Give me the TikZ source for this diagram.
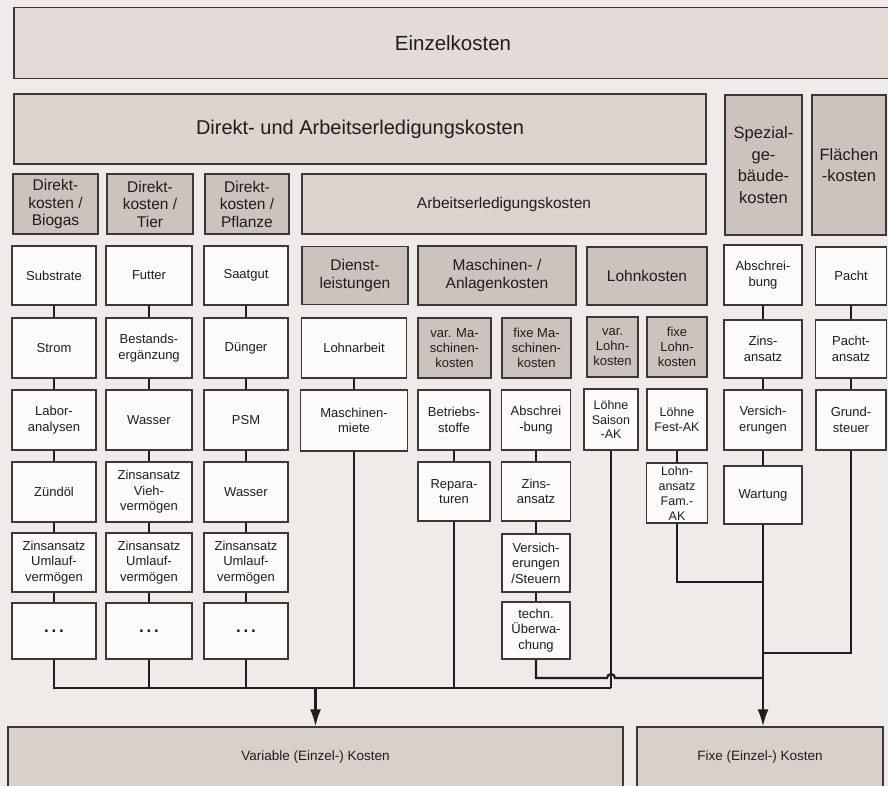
\documentclass[tikz,border=0pt]{standalone}
\usepackage{fontspec}
\setmainfont{Liberation Sans}
\usetikzlibrary{arrows.meta,calc,positioning}
\definecolor{Paper}{HTML}{EEEBE8}
\definecolor{Ink}{HTML}{1E1E1E}
\definecolor{Frame}{HTML}{3A3838}
\definecolor{TopFill}{HTML}{E3DBD7}
\definecolor{MidFill}{HTML}{DDD3CF}
\definecolor{CatFill}{HTML}{CCC2BE}
\definecolor{ItemFill}{HTML}{FCFBF9}
\definecolor{BotFill}{HTML}{D9CFCB}

\begin{document}
\begin{tikzpicture}[x=1pt,y=-1pt,>=Latex,
    every node/.style={text=Ink,align=center,inner sep=1pt},
    wh/.style 2 args={minimum width=#1pt,minimum height=#2pt},
    bigbox/.style={draw=Frame,line width=1.3pt,fill=TopFill,font=\fontsize{20.5}{24}\selectfont},
    catbox/.style={draw=Frame,line width=1.3pt,fill=CatFill,font=\fontsize{15.5}{17.5}\selectfont},
    itembox/.style={draw=Frame,line width=1.3pt,fill=ItemFill,font=\fontsize{13}{15.5}\selectfont},
    botbox/.style={draw=Frame,line width=1.3pt,fill=BotFill,font=\fontsize{13.5}{16}\selectfont},
    linkline/.style={Ink,line width=1.5pt},
    flowline/.style={Ink,line width=2.2pt}]
  \path[use as bounding box,fill=Paper] (0,0) rectangle (888,786);
  \clip (0,0) rectangle (888,786);

  % top level
  \node[bigbox,wh={878}{71}] (einzel) at (453,43) {Einzelkosten};
  \node[bigbox,fill=MidFill,wh={692}{70},font=\fontsize{20}{24}\selectfont] (direktarb) at (360,129)
    {Direkt- und Arbeitserledigungskosten};
  \node[catbox,wh={77}{140},font=\fontsize{16.5}{21.5}\selectfont] (spezial) at (763.5,165)
    {Spezial-\\ge-\\bäude-\\kosten};
  \node[catbox,wh={74}{140},font=\fontsize{16.5}{21.5}\selectfont] (flaechen) at (849,165)
    {Flächen\\-kosten};

  % cost groups
  \node[catbox,wh={85}{60}] (dkbio) at (55.5,204) {Direkt-\\kosten /\\Biogas};
  \node[catbox,wh={86}{60}] (dktier) at (150,204) {Direkt-\\kosten /\\Tier};
  \node[catbox,wh={84}{60}] (dkpfl) at (247,204) {Direkt-\\kosten /\\Pflanze};
  \node[catbox,fill=MidFill,wh={404}{60}] (arbeit) at (504,204) {Arbeitserledigungskosten};

  \node[catbox,wh={106}{58}] (dienst) at (355,275.5) {Dienst-\\leistungen};
  \node[catbox,wh={158}{59}] (masch) at (497,275.5) {Maschinen- /\\Anlagenkosten};
  \node[catbox,wh={120}{58}] (lohnk) at (647,276) {Lohnkosten};
  \node[catbox,wh={73}{60},font=\fontsize{13}{15}\selectfont] (varmasch) at (454.5,348) {var. Ma-\\schinen-\\kosten};
  \node[catbox,wh={69}{60},font=\fontsize{13}{15}\selectfont] (fixmasch) at (536.5,348) {fixe Ma-\\schinen-\\kosten};
  \node[catbox,wh={51}{60},font=\fontsize{13}{15}\selectfont] (varlohn) at (612.5,347) {var.\\Lohn-\\kosten};
  \node[catbox,wh={60}{60},font=\fontsize{13}{15}\selectfont] (fixlohn) at (677,347) {fixe\\Lohn-\\kosten};

  % Direktkosten columns
  \node[itembox,wh={84}{59}] (substr) at (54,275.5) {Substrate};
  \node[itembox,wh={84}{60}] (strom) at (54,348) {Strom};
  \node[itembox,wh={84}{60}] (labor) at (54,420) {Labor-\\analysen};
  \node[itembox,wh={84}{60}] (zuend) at (54,492) {Zündöl};
  \node[itembox,wh={84}{59}] (umlB) at (54,562.5) {Zinsansatz\\Umlauf-\\vermögen};
  \node[itembox,wh={84}{56}] (dotsB) at (54,631) {\fontsize{17}{17}\selectfont\bfseries .\,.\,.};

  \node[itembox,wh={86}{59}] (futter) at (149,275.5) {Futter};
  \node[itembox,wh={86}{60}] (bestand) at (149,348) {Bestands-\\ergänzung};
  \node[itembox,wh={86}{60}] (wasserT) at (149,420) {Wasser};
  \node[itembox,wh={86}{60}] (zinsvieh) at (149,492) {Zinsansatz\\Vieh-\\vermögen};
  \node[itembox,wh={86}{59}] (umlT) at (149,562.5) {Zinsansatz\\Umlauf-\\vermögen};
  \node[itembox,wh={86}{56}] (dotsT) at (149,631) {\fontsize{17}{17}\selectfont\bfseries .\,.\,.};

  \node[itembox,wh={84}{59}] (saatgut) at (246,275.5) {Saatgut};
  \node[itembox,wh={84}{60}] (duenger) at (246,348) {Dünger};
  \node[itembox,wh={84}{60}] (psm) at (246,420) {PSM};
  \node[itembox,wh={84}{60}] (wasserP) at (246,492) {Wasser};
  \node[itembox,wh={84}{59}] (umlP) at (246,562.5) {Zinsansatz\\Umlauf-\\vermögen};
  \node[itembox,wh={84}{56}] (dotsP) at (246,631) {\fontsize{17}{17}\selectfont\bfseries .\,.\,.};

  % Arbeitserledigung items
  \node[itembox,wh={105}{60}] (lohnarb) at (354,348) {Lohnarbeit};
  \node[itembox,wh={107}{61}] (maschmiete) at (354,420.5) {Maschinen-\\miete};
  \node[itembox,wh={72}{60}] (betrieb) at (454,420) {Betriebs-\\stoffe};
  \node[itembox,wh={72}{59}] (repar) at (454,491.5) {Repara-\\turen};
  \node[itembox,wh={69}{60}] (abschrM) at (536,420) {Abschrei\\-bung};
  \node[itembox,wh={69}{59}] (zinsM) at (536,491.5) {Zins-\\ansatz};
  \node[itembox,wh={68}{58}] (versM) at (536,563) {Versich-\\erungen\\/Steuern};
  \node[itembox,wh={68}{57}] (techn) at (536,630.5) {techn.\\Überwa-\\chung};
  \node[itembox,wh={54}{61},font=\fontsize{12.5}{14.5}\selectfont] (saison) at (611,419.5) {Löhne\\Saison\\-AK};
  \node[itembox,wh={60}{61},font=\fontsize{12.5}{14.5}\selectfont] (festak) at (677,419.5) {Löhne\\Fest-AK};
  \node[itembox,wh={61}{60},font=\fontsize{12.5}{15}\selectfont] (famak) at (677,493) {Lohn-\\ansatz\\Fam.-\\AK};

  % Gebaeude und Flaechen
  \node[itembox,wh={78}{60}] (abschrS) at (763,275) {Abschrei-\\bung};
  \node[itembox,wh={78}{58}] (zinsS) at (763,349) {Zins-\\ansatz};
  \node[itembox,wh={78}{60}] (versS) at (763,420) {Versich-\\erungen};
  \node[itembox,wh={78}{58}] (wartung) at (763,495) {Wartung};
  \node[itembox,wh={71}{58}] (pacht) at (851,276) {Pacht};
  \node[itembox,wh={71}{58}] (pachtans) at (851,349) {Pacht-\\ansatz};
  \node[itembox,wh={70}{60}] (grund) at (851,420) {Grund-\\steuer};

  % result
  \node[botbox,wh={615}{60}] (var) at (315.5,757) {Variable (Einzel-) Kosten};
  \node[botbox,wh={246}{60}] (fix) at (760,757) {Fixe (Einzel-) Kosten};

  \coordinate (busL) at (0,688);
  \coordinate (hopY) at (0,678);
  \coordinate (grY) at (0,653);
  \coordinate (famY) at (0,582);

  % links inside the columns
  \foreach \a/\b in {substr/strom,strom/labor,labor/zuend,zuend/umlB,umlB/dotsB,
                     futter/bestand,bestand/wasserT,wasserT/zinsvieh,zinsvieh/umlT,umlT/dotsT,
                     saatgut/duenger,duenger/psm,psm/wasserP,wasserP/umlP,umlP/dotsP,
                     lohnarb/maschmiete,betrieb/repar,abschrM/zinsM,zinsM/versM,versM/techn,
                     festak/famak,abschrS/zinsS,zinsS/versS,versS/wartung,pacht/pachtans,pachtans/grund} {
    \draw[linkline] (\a.south) -- (\a.south |- \b.north);
  }

  % variable costs
  \draw[flowline] (dotsB.south) |- (saison.south |- busL);
  \foreach \n in {dotsT,dotsP,maschmiete,repar,saison} {
    \draw[flowline] (\n.south) -- (\n.south |- busL);
  }
  \draw[flowline,-{Latex[length=17pt,width=11pt]}] (var.north |- busL) -- (var.north);

  % fixed costs
  \draw[flowline] (famak.south) |- (wartung.south |- famY);
  \draw[flowline] (grund.south) |- (wartung.south |- grY);
  \draw[flowline] (techn.south) |- ($(saison.south |- hopY)+(-4,0)$)
    arc[start angle=180,end angle=0,radius=4pt] -- (wartung.south |- hopY);
  \draw[flowline,-{Latex[length=17pt,width=11pt]}] (wartung.south) -- (wartung.south |- fix.north);
\end{tikzpicture}
\end{document}
